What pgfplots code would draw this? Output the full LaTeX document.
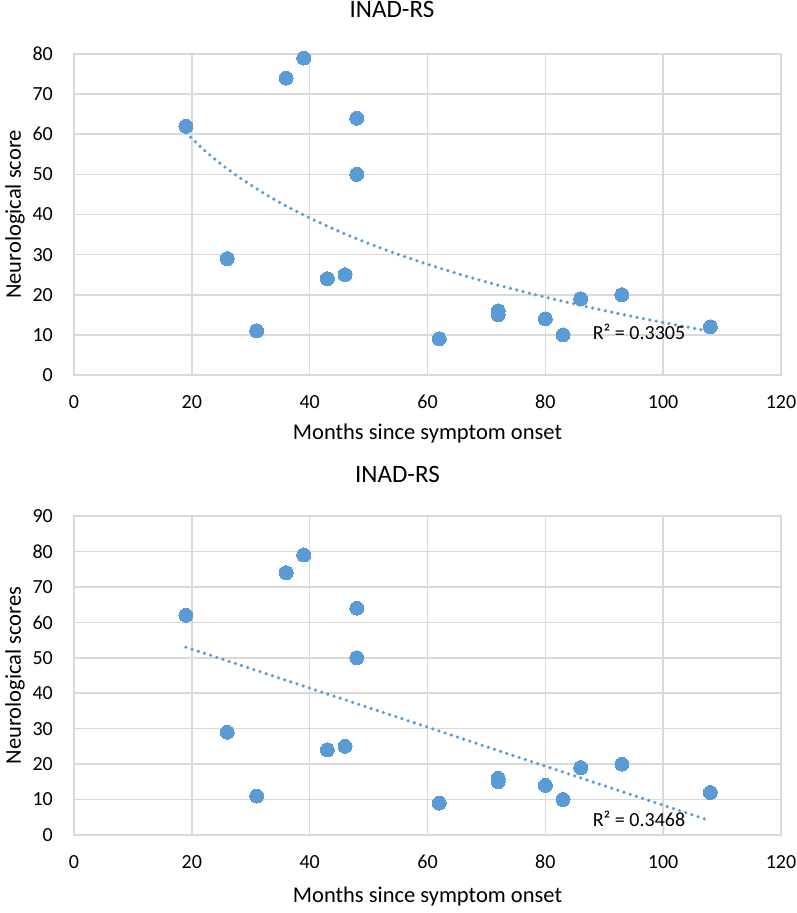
\documentclass[border=0pt]{standalone}
\usepackage{fontspec}
\setmainfont{Carlito}
\usepackage{pgfplots}
\pgfplotsset{compat=1.18}
\definecolor{mb}{RGB}{91,155,213}
\definecolor{gridgray}{RGB}{217,217,217}
\pgfplotsset{
  excel/.style={
    width=707pt, scale only axis,
    xmin=0, xmax=120, ymin=0,
    xtick={0,20,...,120},
    grid=major,
    major grid style={draw=gridgray, line width=1.6pt},
    axis line style={draw=gridgray, line width=1.6pt},
    major tick length=0pt, tick style={draw=none},
    /pgf/number format/assume math mode=true,
    ticklabel style={font=\fontsize{20}{24}\selectfont, inner sep=0pt},
    yticklabel style={anchor=east, xshift=-21pt},
    xticklabel style={anchor=north, yshift=-20pt},
    xlabel={Months since symptom onset},
    xlabel style={font=\fontsize{22.5}{27}\selectfont, inner sep=0pt,
                  at={(axis description cs:0.5,0)}, anchor=center},
    ylabel style={font=\fontsize{22.5}{27}\selectfont, inner sep=0pt,
                  at={(axis description cs:-0.0835,0.5)}, anchor=center},
    title={INAD-RS},
    title style={font=\fontsize{25}{30}\selectfont, inner sep=0pt,
                 at={(axis description cs:0.5,1)}, anchor=center},
  },
  pts/.style={color=mb, only marks, mark=*, mark size=7pt,
              mark options={fill=mb, draw=mb, line width=0pt}},
  trend/.style={color=mb, line width=3.6pt, line cap=round, dash pattern=on 0pt off 6.5pt},
}
\pgfplotstableread{
x y
19 62
26 29
31 11
36 74
39 79
43 24
46 25
48 64
48 50
62 9
72 16
72 15
80 14
83 10
86 19
93 20
108 12
}\datatable
\begin{document}
\begin{tikzpicture}
\useasboundingbox (0,0) rectangle (797pt,913pt);
% top chart
\begin{axis}[excel, at={(74pt,538pt)}, anchor=south west,
  height=321pt, ymax=80, ytick={0,10,...,80},
  ylabel={Neurological score},
  xlabel style={yshift=-59pt},
  title style={yshift=39pt, xshift=-35.5pt}]
\addplot[pts] table {\datatable};
\addplot[trend, smooth] coordinates {
(19,60.36) (22,56.17) (25,52.52) (28,49.30) (32,45.49) (36,42.13) (40,39.14)
(45,35.78) (50,32.79) (55,30.08) (60,27.60) (66,24.87) (72,22.39) (80,19.40)
(88,16.70) (96,14.22) (108,10.86)};
\node[font=\fontsize{20}{24}\selectfont, anchor=center, inner sep=0pt] at (axis cs:95.9,10.7) {R² = 0.3305};
\end{axis}
% bottom chart
\begin{axis}[excel, at={(74pt,78pt)}, anchor=south west,
  height=319pt, ymax=90, ytick={0,10,...,90},
  ylabel={Neurological scores},
  xlabel style={yshift=-62pt},
  title style={yshift=35.5pt, xshift=-30pt}]
\addplot[pts] table {\datatable};
\addplot[trend] coordinates {(19,53.0) (108,4.0)};
\node[font=\fontsize{20}{24}\selectfont, anchor=center, inner sep=0pt] at (axis cs:95.9,4.5) {R² = 0.3468};
\end{axis}
\end{tikzpicture}
\end{document}
